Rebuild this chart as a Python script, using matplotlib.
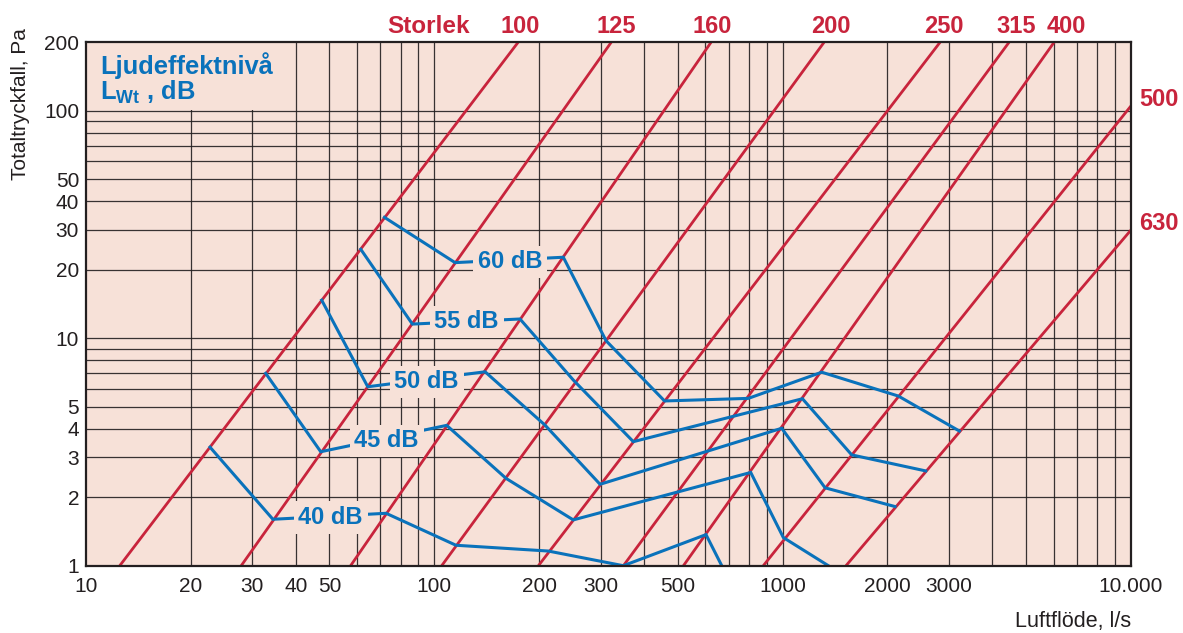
import matplotlib
matplotlib.use("Agg")
import matplotlib.pyplot as plt
from matplotlib.patches import Rectangle
from matplotlib.ticker import NullLocator
from matplotlib.transforms import blended_transform_factory

plt.rcParams["font.family"] = ["Liberation Sans", "DejaVu Sans"]
plt.rcParams["mathtext.fontset"] = "custom"
plt.rcParams["mathtext.rm"] = "Liberation Sans:bold"
plt.rcParams["mathtext.it"] = "Liberation Sans:bold"
plt.rcParams["mathtext.bf"] = "Liberation Sans:bold"

BG = "#f7e1d8"
RED = "#c8243c"
BLUE = "#0a72bb"
INK = "#231f20"

# duct sizes: red lines running from p = 1 Pa to the top / right edge
sizes = ["100", "125", "160", "200", "250", "315", "400", "500", "630"]
size_q_start = [12.5, 27.9, 57.5, 105, 199, 349, 519, 880, 1520]
size_q_end = [174, 322, 623, 1315, 2831, 4467, 6016, 10000, 10000]
size_p_end = [200, 200, 200, 200, 200, 200, 200, 105, 29.9]
size_label_q = [176, 332, 628, 1374, 2907, 4678, 6541]  # the ones along the top
storlek_q = 96.4

# sound power level curves (l/s, Pa)
db_labels = ["40 dB", "45 dB", "50 dB", "55 dB", "60 dB"]
db_q = [
    [22.7, 34.4, 72.7, 115.4, 212.5, 348.8, 602.6, 668.7],
    [32.8, 47.2, 108.5, 160.7, 250.6, 809.8, 1004.7, 1353],
    [47.5, 64.4, 139.9, 207.9, 299.1, 994.0, 1324, 2102],
    [61.5, 86.5, 176.2, 250.6, 372.7, 1140, 1579, 2576],
    [71.9, 114.7, 234.6, 311.2, 458.1, 797.0, 1295, 2149, 3216],
]
db_p = [
    [3.32, 1.60, 1.70, 1.23, 1.16, 1.0, 1.37, 1.0],
    [7.01, 3.17, 4.14, 2.42, 1.59, 2.57, 1.33, 1.0],
    [14.7, 6.12, 7.12, 4.15, 2.28, 4.02, 2.20, 1.82],
    [24.6, 11.54, 12.15, 6.55, 3.51, 5.42, 3.07, 2.61],
    [34.0, 21.5, 22.7, 9.75, 5.30, 5.44, 7.09, 5.57, 3.91],
]
db_label_q = [50.4, 73.0, 95.1, 123.9, 165.0]
db_label_p = [1.525, 3.315, 6.02, 11.05, 20.3]

x_ticks = [10, 20, 30, 40, 50, 100, 200, 300, 500, 1000, 2000, 3000, 10000]
x_ticklabels = ["10", "20", "30", "40", "50", "100", "200", "300", "500",
                "1000", "2000", "3000", "10.000"]
y_ticks = [1, 2, 3, 4, 5, 10, 20, 30, 40, 50, 100, 200]

grid_x = [20, 30, 40, 50, 60, 70, 80, 90, 100,
          200, 300, 400, 500, 600, 700, 800, 900, 1000,
          2000, 3000, 4000, 5000, 6000, 7000, 8000, 9000]
grid_y = [2, 3, 4, 5, 6, 7, 8, 9, 10, 20, 30, 40, 50, 60, 70, 80, 90, 100]

fig = plt.figure(figsize=(11.83, 6.33), dpi=100)
ax = fig.add_axes([0.0727, 0.1063, 0.8833, 0.8269])
ax.set_xscale("log")
ax.set_yscale("log")
ax.set_xlim(10, 10000)
ax.set_ylim(1, 200)
ax.set_facecolor(BG)

for gx in grid_x:
    ax.axvline(gx, color=INK, lw=0.9, alpha=0.9, zorder=1)
for gy in grid_y:
    ax.axhline(gy, color=INK, lw=0.9, alpha=0.9, zorder=1)

# plain box behind the legend title hides the grid
ax.add_patch(Rectangle((0, 0.8707), 0.2, 0.1293, transform=ax.transAxes,
                       facecolor=BG, edgecolor="none", zorder=1.5))

for q0, q1, p1 in zip(size_q_start, size_q_end, size_p_end):
    ax.plot([q0, q1], [1, p1], color=RED, lw=2.0, zorder=2, solid_capstyle="butt")

for qs, ps in zip(db_q, db_p):
    ax.plot(qs, ps, color=BLUE, lw=2.2, zorder=3, solid_joinstyle="miter")

for lab, q, p in zip(db_labels, db_label_q, db_label_p):
    ax.text(q, p, lab, color=BLUE, fontsize=17, fontweight="bold",
            ha="center", va="baseline", zorder=4,
            bbox=dict(boxstyle="square,pad=0.2", facecolor=BG, edgecolor="none"))

top = blended_transform_factory(ax.transData, ax.transAxes)
ax.text(storlek_q, 1.0172, "Storlek", transform=top, color=RED, fontsize=17.5,
        fontweight="bold", ha="center", va="baseline")
for lab, q in zip(sizes[:7], size_label_q):
    ax.text(q, 1.0172, lab, transform=top, color=RED, fontsize=17,
            fontweight="bold", ha="center", va="baseline")

right = blended_transform_factory(ax.transAxes, ax.transData)
for lab, p in zip(sizes[7:], size_p_end[7:]):
    ax.text(1.0077, p, lab, transform=right, color=RED, fontsize=17,
            fontweight="bold", ha="left", va="baseline", clip_on=False)

ax.text(0.0134, 0.9394, "Ljudeffektnivå", transform=ax.transAxes, color=BLUE,
        fontsize=18.4, fontweight="bold", ha="left", va="baseline", zorder=5)
ax.text(0.0134, 0.8898, r"L$_{\mathrm{Wt}}$ , dB", transform=ax.transAxes, color=BLUE,
        fontsize=18.4, fontweight="bold", ha="left", va="baseline", zorder=5)

ax.set_xticks(x_ticks)
ax.set_xticklabels(x_ticklabels)
ax.set_yticks(y_ticks)
ax.set_yticklabels([str(v) for v in y_ticks])
ax.xaxis.set_minor_locator(NullLocator())
ax.yaxis.set_minor_locator(NullLocator())
ax.tick_params(axis="both", length=0, labelsize=15, colors=INK)
ax.tick_params(axis="x", pad=8)
ax.tick_params(axis="y", pad=5)

for sp in ax.spines.values():
    sp.set_color(INK)
    sp.set_linewidth(1.6)
    sp.set_zorder(6)

fig.text(20 / 1183, 1 - 28 / 633, "Totaltryckfall, Pa", rotation=90,
         ha="center", va="top", fontsize=15, color=INK)
fig.text(1131 / 1183, 1 - 622 / 633, "Luftflöde, l/s", ha="right", va="center",
         fontsize=15.5, color=INK)

fig.savefig("out.png", dpi=100, facecolor="white")
